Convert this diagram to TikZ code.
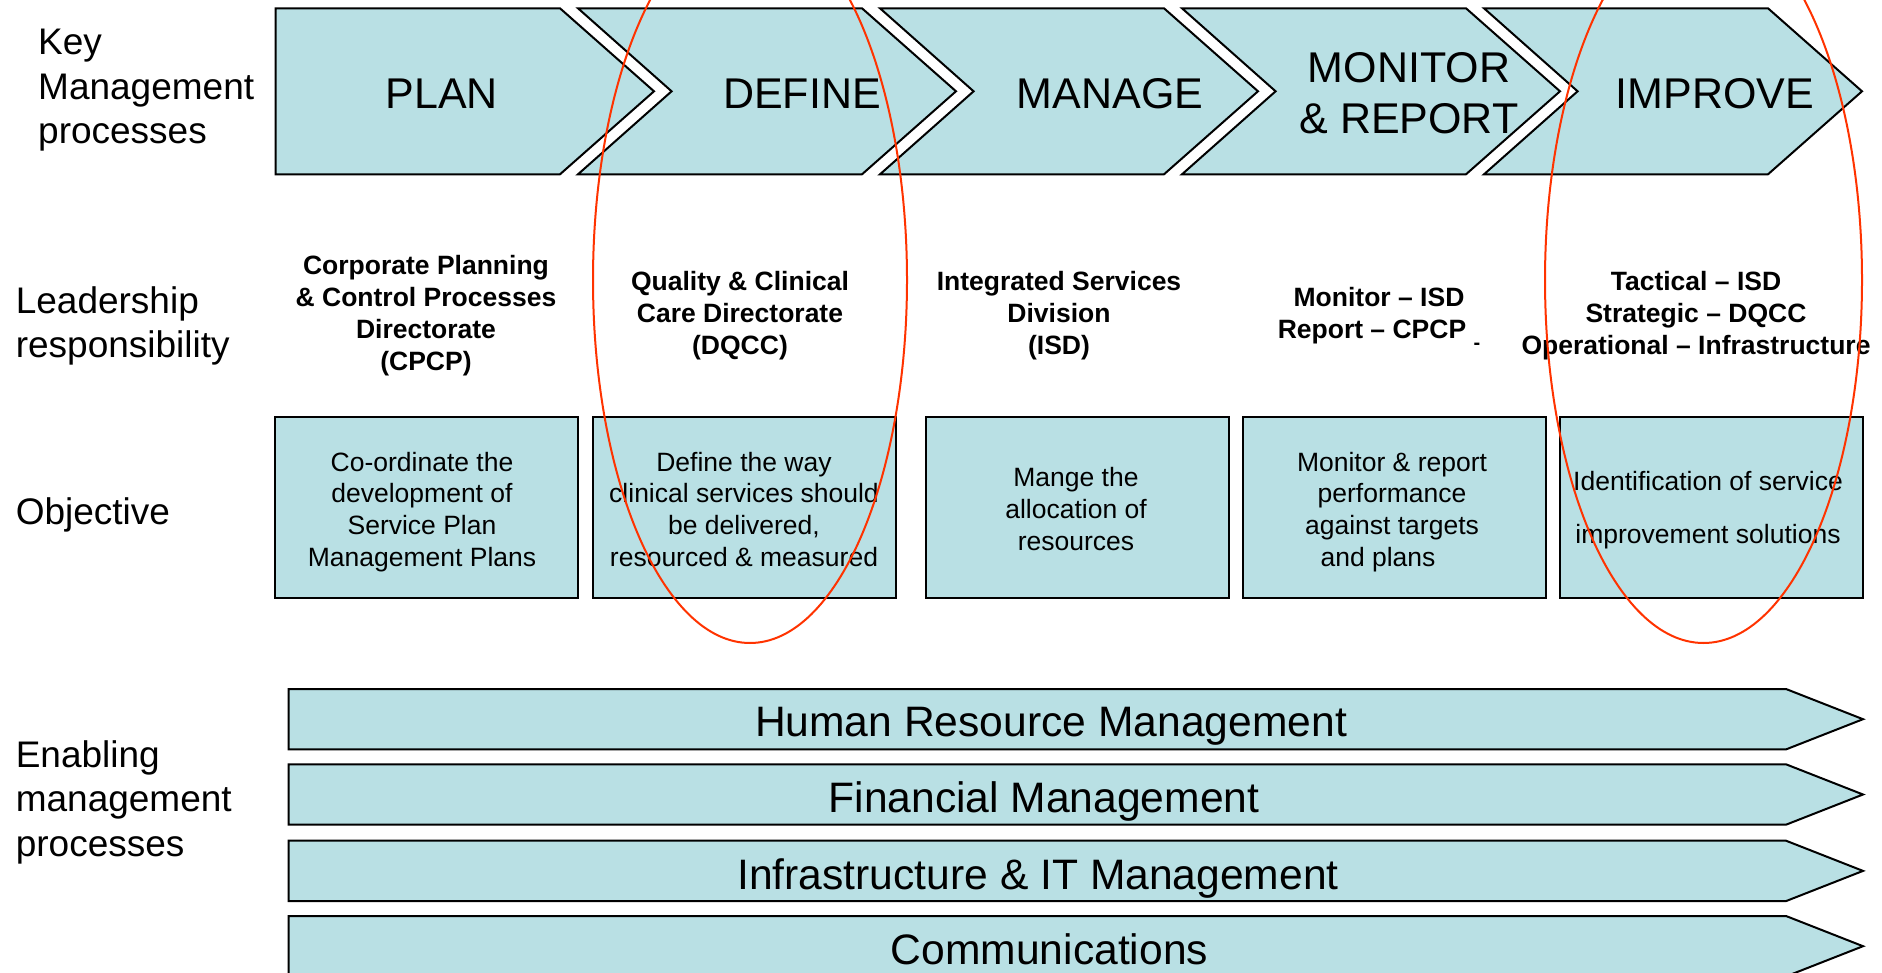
\documentclass[tikz,border=0pt]{standalone}
\usepackage{fontspec}
\setmainfont{Liberation Sans}
\definecolor{fillblue}{RGB}{185,224,228}
\definecolor{ellred}{RGB}{255,51,0}
\newcommand\fchev{\fontsize{43}{50.6}\selectfont}
\newcommand\fside{\fontsize{37}{44.5}\selectfont}
\newcommand\flead{\fontsize{26.5}{32}\selectfont\bfseries}
\newcommand\fobj{\fontsize{26.5}{31.7}\selectfont}
\newcommand\fenab{\fontsize{42.6}{50}\selectfont}
\begin{document}
\begin{tikzpicture}[x=1pt,y=-1pt,
  shapebox/.style={fill=fillblue,draw=black,line width=2pt,line join=miter},
  objbox/.style={fill=fillblue,draw=black,line width=2pt,rectangle,inner sep=0pt,
    minimum width=303pt,minimum height=181pt},
  txt/.style={inner sep=0pt,align=center,execute at begin node=\strut,execute at end node=\strut},
  sidetxt/.style={inner sep=0pt,align=left,anchor=north west,font=\fside,
    execute at begin node=\strut,execute at end node=\strut},
  ring/.style={draw=ellred,line width=2pt}]
\useasboundingbox (0,0) rectangle (1882,973);
\clip (0,0) rectangle (1882,973);
\fill[white] (0,0) rectangle (1882,973);

% left labels
\node[sidetxt] (lkey) at (38,29) {Key\\Management\\processes};
\node[sidetxt] (llead) at (15.6,286) {Leadership\\responsibility};
\node[sidetxt] (lobj) at (15.6,493) {Objective};
\node[sidetxt] (lenab) at (15.6,740) {Enabling\\management\\processes};

% key management chevrons
\draw[shapebox] (275.6,8.3) -- (560,8.3) -- (654,91.3) -- (560,174.3) -- (275.6,174.3) -- cycle;
\foreach \i in {0,...,3}{
  \pgfmathsetmacro\s{578+302*\i}
  \draw[shapebox] (\s,8.3) -- ++(284,0) -- ++(94,83) -- ++(-94,83) -- ++(-284,0) -- ++(93.6,-83) -- cycle;
}
\node[anchor=base,inner sep=0pt,font=\fchev] (plan) at (441.7,108.3) {PLAN};
\node[anchor=base,inner sep=0pt,font=\fchev] (define) at (802,108.3) {DEFINE};
\node[anchor=base,inner sep=0pt,font=\fchev] (manage) at (1110,108.3) {MANAGE};
\node[txt,font=\fchev] (monitor) at (1409,100.3) {MONITOR\\\& REPORT};
\node[anchor=base,inner sep=0pt,font=\fchev] (improve) at (1715,108.3) {IMPROVE};

% leadership
\node[txt,font=\flead] (cpcp) at (426,317.2) {Corporate Planning\\\& Control Processes\\Directorate\\(CPCP)};
\node[txt,font=\flead] (dqcc) at (740,317.2) {Quality \& Clinical\\Care Directorate\\(DQCC)};
\node[txt,font=\flead] (isd) at (1059,317.2) {Integrated Services\\Division\\(ISD)};
\node[txt,font=\flead] (monrep) at (1379,317.2) {Monitor -- ISD\\Report -- CPCP \smash{\raisebox{-11pt}{\fontsize{20}{20}\selectfont -}}};
\node[txt,font=\flead] (tact) at (1696,317.2) {Tactical -- ISD\\Strategic -- DQCC\\Operational -- Infrastructure};

% objective boxes
\node[objbox] (ob1) at (426.8,507.5) {};
\node[objbox] (ob2) at (744.8,507.5) {};
\node[objbox] (ob3) at (1077,507.5) {};
\node[objbox] (ob4) at (1394.5,507.5) {};
\node[objbox] (ob5) at (1711.8,507.5) {};
\node[txt,font=\fobj] (ot1) at (422,514) {Co-ordinate the\\development of\\Service Plan\\Management Plans};
\node[txt,font=\fobj] (ot2) at (744,514) {Define the way\\clinical services should\\be delivered,\\resourced \& measured};
\node[txt,font=\fobj] (ot3) at (1076,513.5) {Mange the\\allocation of\\resources};
\node[txt,font=\fobj] (ot4) at (1392,514) {Monitor \& report\\performance\\against targets\\and plans\hspace*{28pt}};
\node[txt,font=\fontsize{26.5}{53}\selectfont] (ot5) at (1708,515.4) {Identification of service\\improvement solutions};

% enabling arrows
\foreach \t in {689,764.3,840.7,916}{
  \draw[shapebox] (288.5,\t) -- (1786,\t) -- (1863,\t+30.2) -- (1786,\t+60.4) -- (288.5,\t+60.4) -- cycle;
}
\node[anchor=base,inner sep=0pt,font=\fenab] (hrm) at (1051,736.5) {Human Resource Management};
\node[anchor=base,inner sep=0pt,font=\fenab] (fin) at (1044,812.6) {Financial Management};
\node[anchor=base,inner sep=0pt,font=\fenab] (infra) at (1038,889) {Infrastructure \& IT Management};
\node[anchor=base,inner sep=0pt,font=\fenab] (comm) at (1049.5,964.5) {Communications};

% red ellipses
\draw[ring] (750,280) ellipse [x radius=157pt, y radius=363pt];
\draw[ring] (1703.5,280) ellipse [x radius=158.5pt, y radius=363pt];
\end{tikzpicture}
\end{document}
